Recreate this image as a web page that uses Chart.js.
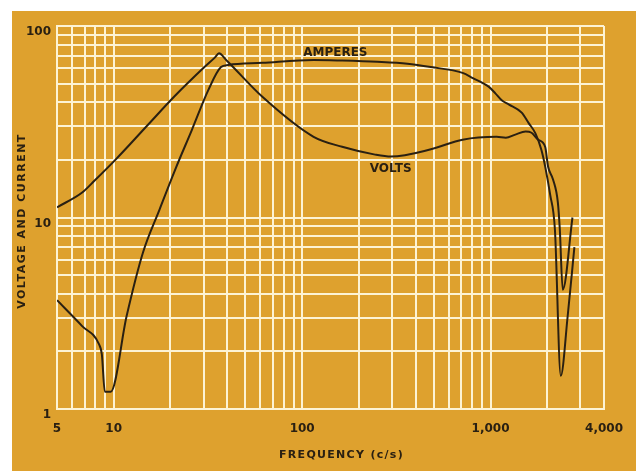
<!DOCTYPE html>
<html>
<head>
<meta charset="utf-8">
<script src="https://cdn.jsdelivr.net/npm/chart.js@4.4.1/dist/chart.umd.min.js"></script>
<style>
  html, body { margin: 0; padding: 0; background: #fff; }
</style>
</head>
<body>
<canvas id="chart" width="636" height="471"></canvas>
<script>
// values (log-log)
const ampFreq = [5, 6.8, 8.35, 8.65, 8.97, 9.64, 11.7, 14.3, 17.5, 21.2, 26, 31.8, 37.1, 40.5, 61.5, 115, 163, 250, 362,
                 482, 710, 805, 980, 1060, 1150, 1253, 1463, 1590, 1730, 1860, 1948, 2070, 2195, 2358, 2565, 2785];
const ampValues = [3.7, 2.71, 2.18, 1.93, 1.23, 1.23, 3.05, 6.57, 11.0, 17.8, 28.7, 46.4, 61, 62.6, 64.2, 66.5, 66, 65, 63.5,
                   61, 56.9, 53.5, 48.1, 44.5, 40.8, 38.9, 35.3, 31.2, 27.5, 22.6, 18.5, 13.2, 8.66, 1.49, 3.05, 7.0];
const voltFreq = [5, 6.8, 7.87, 10.2, 15.2, 20.9, 30, 34.5, 36.2, 39.5, 61.5, 115, 163, 244, 296, 482, 710, 1075, 1205, 1353,
                  1534, 1650, 1785, 1948, 2020, 2145, 2275, 2330, 2415, 2720];
const voltValues = [11.3, 13.5, 15.5, 20, 30.5, 42.7, 60.5, 68.6, 72, 66.5, 42.7, 26.4, 23.4, 21.3, 20.8, 22.7, 25.5, 26.4, 26.1, 27.1,
                    28.1, 27.7, 25.5, 23.4, 18.4, 15.8, 12, 8.7, 4.2, 10];

const xTickValues = [5, 10, 100, 1000, 4000];
const xTickLabels = ['5', '10', '100', '1,000', '4,000'];
const yTickValues = [1, 10, 100];
const yTickLabels = ['1', '10', '100'];

const GOLD = '#dea12e';
const GRID = '#fdf3d4';
const INK = '#2a2012';

// every 1..9 multiple inside the range gets a grid line
function logGrid(min, max) {
    const out = [];
    for (let d = 1; d <= max; d *= 10) {
        for (let m = 1; m <= 9; m++) {
            const v = m * d;
            if (v >= min && v <= max) out.push(v);
        }
    }
    return out;
}

function labelFor(values, labels) {
    return (v) => {
        const i = values.indexOf(v);
        return i >= 0 ? labels[i] : '';
    };
}

const paper = {
    id: 'paper',
    beforeDraw(chart) {
        const ctx = chart.ctx;
        ctx.save();
        ctx.fillStyle = '#ffffff';
        ctx.fillRect(0, 0, chart.width, chart.height);
        ctx.fillStyle = GOLD;
        ctx.fillRect(12, 11, chart.width - 12, chart.height - 11);
        ctx.restore();
    },
    afterDraw(chart) {
        const ctx = chart.ctx;
        const xs = chart.scales.x, ys = chart.scales.y;
        const area = chart.chartArea;
        ctx.save();
        ctx.fillStyle = INK;
        ctx.textAlign = 'center';
        ctx.textBaseline = 'middle';
        ctx.font = 'bold 11px "DejaVu Sans"';
        ctx.letterSpacing = '1.3px';
        ctx.fillText('FREQUENCY (c/s)', (area.left + area.right) / 2 + 11, 455);

        ctx.save();
        ctx.translate(22, 221);
        ctx.rotate(-Math.PI / 2);
        ctx.letterSpacing = '1.5px';
        ctx.fillText('VOLTAGE AND CURRENT', 0, 0);
        ctx.restore();

        ctx.letterSpacing = '0px';
        ctx.font = 'bold 12px "DejaVu Sans"';
        const notes = [['AMPERES', 150, 72], ['VOLTS', 295, 18]];
        notes.forEach(([text, f, v]) => {
            ctx.fillText(text, xs.getPixelForValue(f), ys.getPixelForValue(v));
        });
        ctx.restore();
    }
};

const lineStyle = {
    showLine: true,
    borderColor: INK,
    borderWidth: 2,
    pointRadius: 0,
    cubicInterpolationMode: 'monotone',
    fill: false
};

new Chart(document.getElementById('chart'), {
    type: 'scatter',
    data: {
        datasets: [
            Object.assign({ label: 'AMPERES', data: ampFreq.map((f, i) => ({ x: f, y: ampValues[i] })) }, lineStyle),
            Object.assign({ label: 'VOLTS', data: voltFreq.map((f, i) => ({ x: f, y: voltValues[i] })) }, lineStyle)
        ]
    },
    options: {
        responsive: false,
        animation: false,
        layout: { padding: { left: 12, top: 26, right: 19, bottom: 0 } },
        plugins: { legend: { display: false }, tooltip: { enabled: false } },
        scales: {
            x: {
                type: 'logarithmic',
                min: 5,
                max: 4000,
                afterBuildTicks: (scale) => { scale.ticks = logGrid(5, 4000).map(v => ({ value: v })); },
                afterFit: (scale) => { scale.height = 62; },
                grid: { color: GRID, lineWidth: 2, drawTicks: false },
                border: { color: GRID, width: 2 },
                ticks: {
                    autoSkip: false,
                    maxRotation: 0,
                    padding: 13,
                    color: INK,
                    font: { family: 'DejaVu Sans', size: 12, weight: 'bold' },
                    callback: labelFor(xTickValues, xTickLabels)
                }
            },
            y: {
                type: 'logarithmic',
                min: 1,
                max: 100,
                afterBuildTicks: (scale) => { scale.ticks = logGrid(1, 100).map(v => ({ value: v })); },
                afterFit: (scale) => { scale.width = 45; },
                grid: { color: GRID, lineWidth: 2, drawTicks: false },
                border: { color: GRID, width: 2 },
                ticks: {
                    autoSkip: false,
                    padding: 6,
                    labelOffset: 6,
                    color: INK,
                    font: { family: 'DejaVu Sans', size: 12, weight: 'bold' },
                    callback: labelFor(yTickValues, yTickLabels)
                }
            }
        }
    },
    plugins: [paper]
});
</script>
</body>
</html>
